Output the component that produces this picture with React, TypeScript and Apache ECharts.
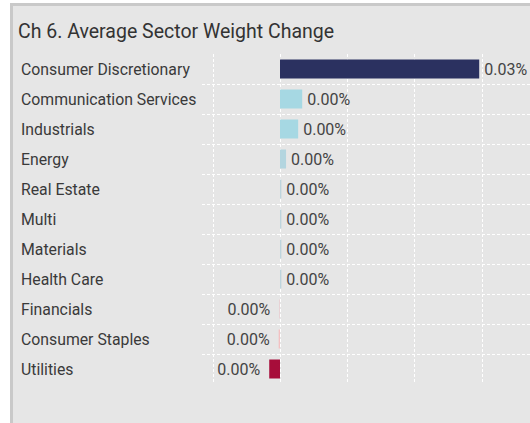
import React, { useEffect, useRef } from "react";
import * as echarts from "echarts";

const titleText = "Ch 6. Average Sector Weight Change";
const categories = [
  "Consumer Discretionary",
  "Communication Services",
  "Industrials",
  "Energy",
  "Real Estate",
  "Multi",
  "Materials",
  "Health Care",
  "Financials",
  "Consumer Staples",
  "Utilities",
];
const values = [0.0296, 0.0033, 0.0027, 0.0009, 0.0002, 0.0002, 0.0002, 0.0002, -0.0001, -0.0002, -0.0016];
const barColors = [
  "#2b3160",
  "#a6d8e3",
  "#a6d8e3",
  "#b3d5df",
  "#bdd4dd",
  "#bdd4dd",
  "#bdd4dd",
  "#bdd4dd",
  "#e9c9cd",
  "#f3c1c2",
  "#a70d3a",
];

const FONT = "Roboto";
const PX_PER_UNIT = 6730; // pixels per 1 (percent unit)
const ZERO_X = 280;
const GRID_LEFT = 202;
const LINES_LEFT = 213;
const GRID_RIGHT_X = 560;

export default function App() {
  const ref = useRef<HTMLDivElement>(null);
  useEffect(() => {
    if (!ref.current) return;
    const chart = echarts.init(ref.current, undefined, { renderer: "svg" });
    const min0 = -(ZERO_X - GRID_LEFT) / PX_PER_UNIT;
    const max0 = min0 + (GRID_RIGHT_X - GRID_LEFT) / PX_PER_UNIT;
    const fmt = (v: number) => (Math.round(v * 100) / 100 + 0).toFixed(2) + "%";
    chart.setOption({
      animation: false,
      textStyle: { fontFamily: FONT },
      title: {
        text: titleText,
        left: 13,
        top: 16,
        textStyle: { fontFamily: FONT, fontSize: 19.5, fontWeight: "normal", color: "#333333" },
      },
      grid: [
        { left: GRID_LEFT, top: 54, width: GRID_RIGHT_X - GRID_LEFT, height: 330, containLabel: false, outerBoundsMode: "none" },
        { left: LINES_LEFT, top: 54, width: GRID_RIGHT_X - LINES_LEFT, height: 330, containLabel: false, outerBoundsMode: "none" },
      ],
      xAxis: [
        {
          type: "value",
          gridIndex: 0,
          min: min0,
          max: max0,
          axisLine: { show: false },
          axisTick: { show: false },
          axisLabel: { show: false },
          splitLine: { show: false },
        },
        {
          type: "value",
          gridIndex: 1,
          min: -0.01,
          max: max0,
          interval: 0.01,
          axisLine: { show: false },
          axisTick: { show: false },
          axisLabel: { show: false },
          splitLine: {
            show: true,
            showMaxLine: false,
            lineStyle: { color: "#ffffff", type: [3, 2], width: 1 },
          },
        },
      ],
      yAxis: [
        {
          type: "category",
          gridIndex: 0,
          data: categories,
          inverse: true,
          axisLine: { show: false },
          axisTick: { show: false },
          axisLabel: {
            align: "left",
            margin: GRID_LEFT - 21,
            fontFamily: FONT,
            fontSize: 15.8,
            color: "#3a3a3a",
          },
          splitLine: {
            show: true,
            showMinLine: false,
            showMaxLine: false,
            lineStyle: { color: "#ffffff", type: [3, 2], width: 1 },
          },
        },
        {
          type: "value",
          gridIndex: 1,
          min: 0,
          max: 1,
          show: false,
          splitLine: { show: false },
        },
      ],
      series: [
        {
          type: "bar",
          xAxisIndex: 0,
          yAxisIndex: 0,
          barWidth: 19,
          data: values.map((v, i) => ({
            value: v,
            itemStyle: { color: barColors[i] },
            label: {
              show: true,
              position: v >= 0 ? "right" : "left",
              distance: v >= 0 ? 5 : 9,
              formatter: () => fmt(v),
              fontFamily: FONT,
              fontSize: 16,
              color: "#444444",
            },
          })),
        },
      ],
    });
    return () => chart.dispose();
  }, []);
  return (
    <div style={{ position: "fixed", left: 0, top: 0, width: 530, height: 423, overflow: "hidden", background: "#ffffff" }}>
      <div
        style={{
          position: "absolute",
          left: 10,
          top: 3,
          width: 600,
          height: 500,
          boxSizing: "border-box",
          background: "#e6e6e6",
          border: "3px solid #c9c9c9",
        }}
      />
      <div ref={ref} style={{ position: "absolute", left: 0, top: 0, width: 620, height: 423 }} />
    </div>
  );
}
